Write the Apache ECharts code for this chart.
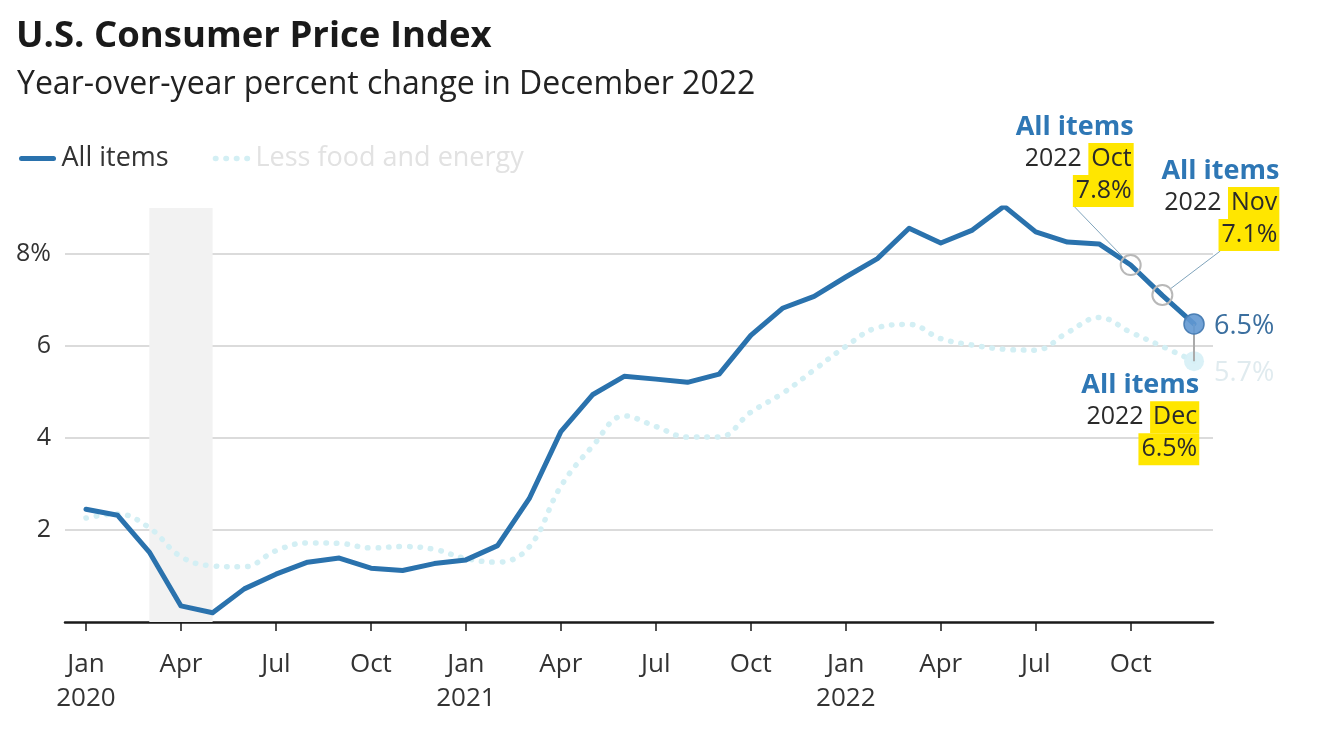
<!DOCTYPE html>
<html>
<head>
<meta charset="utf-8">
<script src="https://cdn.jsdelivr.net/npm/echarts@6/dist/echarts.min.js"></script>
<style>
html,body{margin:0;padding:0;background:#fff;}
#c{width:1341px;height:741px;}
</style>
</head>
<body>
<div id="c"></div>
<script>
// ---- Data ----
const months = ['Jan','Feb','Mar','Apr','May','Jun','Jul','Aug','Sep','Oct','Nov','Dec'];
const years = ['2020','2021','2022'];
// All items CPI, YoY % (Jan 2020 .. Dec 2022)
const allItems = [2.45, 2.32, 1.52, 0.35, 0.2, 0.72, 1.04, 1.3, 1.39, 1.17, 1.12, 1.27,
                  1.35, 1.66, 2.68, 4.14, 4.94, 5.34, 5.28, 5.21, 5.39, 6.23, 6.82, 7.08,
                  7.5, 7.9, 8.56, 8.24, 8.52, 9.04, 8.48, 8.26, 8.22, 7.76, 7.1, 6.48];
// Less food and energy, YoY %
const core = [2.26, 2.35, 2.05, 1.42, 1.22, 1.2, 1.55, 1.72, 1.71, 1.61, 1.64, 1.58,
              1.38, 1.3, 1.63, 2.95, 3.82, 4.48, 4.25, 4.02, 4.02, 4.56, 4.97, 5.48,
              5.99, 6.4, 6.47, 6.16, 6.02, 5.93, 5.91, 6.29, 6.62, 6.3, 5.99, 5.67];
const yTicks = [2, 4, 6, 8];
const xTickIdx = [0, 3, 6, 9, 12, 15, 18, 21, 24, 27, 30, 33];
const recession = [2, 4]; // Mar 2020 .. May 2020 (index)
const annotations = [
  {idx: 33, value: 7.76, month: 'Oct', label: '7.8%'},
  {idx: 34, value: 7.11, month: 'Nov', label: '7.1%'},
  {idx: 35, value: 6.48, month: 'Dec', label: '6.5%'}
];
const endLabels = {all: '6.5%', core: '5.7%'};

// ---- Build ----
const allData = allItems.map((v, i) => [i, v]);
const coreData = core.map((v, i) => [i, v]);
const last = allItems.length - 1;

const FONT = 'Open Sans';
const BLUE = '#2a72ad';
const CORE = '#d3eff4';
const YEL = '#ffe600';

function monthLabel(i) {
  const m = months[i % 12];
  if (i % 12 === 0) return m + '\n' + years[Math.floor(i / 12)];
  return m;
}

const rich = {
  t: {fontFamily: FONT, fontWeight: 'bold', fontSize: 27, color: '#2e77b5', lineHeight: 32, align: 'right'},
  d: {fontFamily: FONT, fontSize: 25, color: '#2a2a2a', lineHeight: 32, align: 'right'},
  h: {fontFamily: FONT, fontSize: 25, color: '#2a2a2a', lineHeight: 32, height: 32, backgroundColor: YEL, padding: [0, 2, 0, 3], align: 'right'}
};

const layouts = [
  {position: [14, -47], verticalAlign: 'bottom'},
  {position: [128, -33], verticalAlign: 'bottom'},
  {position: [16, 56], verticalAlign: 'top'}
];

const annData = annotations.map((a, k) => ({
  value: [a.idx, a.value],
  symbol: 'circle',
  symbolSize: 20,
  itemStyle: k < 2 ? {color: 'rgba(255,255,255,0)', borderColor: '#b8b8b8', borderWidth: 2, opacity: 1}
                   : {color: 'rgba(98,152,210,0.9)', borderColor: '#4a7fb5', borderWidth: 1.5, opacity: 1},
  label: {
    show: true,
    position: layouts[k].position,
    align: 'right',
    verticalAlign: layouts[k].verticalAlign,
    formatter: '{t|All items}\n{d|2022 }{h|' + a.month + '}\n{h|' + a.label + '}',
    rich: rich
  },
  labelLine: {show: k < 2, lineStyle: {color: '#7fa3bb', width: 1}}
}));

const option = {
  animation: false,
  title: [
    {text: 'U.S. Consumer Price Index', left: 11, top: 13,
     textStyle: {fontFamily: FONT, fontWeight: 'bold', fontSize: 36.5, color: '#1a1a1a'}},
    {text: 'Year-over-year percent change in December 2022', left: 12, top: 64,
     textStyle: {fontFamily: FONT, fontWeight: 'normal', fontSize: 32, color: '#222'}}
  ],
  legend: {
    left: 14, top: 140,
    itemWidth: 32, itemHeight: 14, itemGap: 44,
    itemStyle: {opacity: 0},
    textStyle: {fontFamily: FONT, fontSize: 27, color: '#333', padding: [0, 0, 0, 3]},
    data: [
      {name: 'All items', textStyle: {color: '#333'},
       lineStyle: {color: BLUE, width: 5, cap: 'round', type: 'solid'}},
      {name: 'Less food and energy', textStyle: {color: '#e2e2e2'},
       lineStyle: {color: CORE, width: 5.5, cap: 'round', type: [0.5, 10]}}
    ],
    selectedMode: false
  },
  grid: {left: 65, right: 128, top: 208, bottom: 119, containLabel: false},
  xAxis: {
    type: 'value',
    min: -0.663, max: 35.6,
    splitLine: {show: false},
    axisLine: {show: true, lineStyle: {color: '#1a1a1a', width: 2.5}},
    axisTick: {show: true, customValues: xTickIdx, length: 9, lineStyle: {color: '#1a1a1a', width: 1.5}},
    axisLabel: {
      customValues: xTickIdx,
      formatter: v => monthLabel(Math.round(v)),
      fontFamily: FONT, fontSize: 26, color: '#333', lineHeight: 34, margin: 26
    }
  },
  yAxis: {
    type: 'value',
    min: 0, max: 9,
    axisLine: {show: false},
    axisTick: {show: false},
    splitLine: {show: true, lineStyle: {color: '#cfcfcf', width: 1.5}, showMinLine: false, showMaxLine: false},
    axisLabel: {
      customValues: yTicks,
      formatter: v => (v === 8 ? v + '%' : String(v)),
      fontFamily: FONT, fontSize: 25, color: '#333', margin: 14
    }
  },
  series: [
    {
      name: 'Less food and energy',
      type: 'line',
      data: coreData,
      smooth: 0.4,
      symbol: 'none',
      z: 2,
      lineStyle: {color: CORE, width: 5.5, type: [0.5, 10], cap: 'round'},
      itemStyle: {color: CORE},
      markArea: {
        silent: true,
        itemStyle: {color: '#f2f2f2'},
        data: [[{xAxis: recession[0], yAxis: 0}, {xAxis: recession[1], yAxis: 9}]]
      }
    },
    {
      name: 'All items',
      type: 'line',
      data: allData,
      symbol: 'none',
      z: 3,
      lineStyle: {color: BLUE, width: 5, cap: 'round', join: 'round'},
      itemStyle: {color: BLUE}
    },
    {
      name: 'ends',
      type: 'scatter',
      z: 4,
      symbolSize: 20,
      data: [
        {value: [last, core[last]], itemStyle: {color: 'rgba(214,240,246,0.9)', opacity: 1},
         label: {show: true, position: 'right', distance: 10, offset: [0, 12], formatter: endLabels.core,
                 color: '#e0ebef', fontFamily: FONT, fontSize: 27}},
        {value: [last, allItems[last]], itemStyle: {color: 'rgba(0,0,0,0)', opacity: 1},
         label: {show: true, position: 'right', distance: 10, offset: [0, 2], formatter: endLabels.all,
                 color: '#3b6f9f', fontFamily: FONT, fontSize: 27}}
      ],
      markLine: {
        silent: true,
        symbol: 'none',
        lineStyle: {color: '#aaaaaa', width: 2, type: 'solid'},
        label: {show: false},
        data: [[{coord: [last, allItems[last]]}, {coord: [last, core[last]]}]]
      }
    },
    {
      name: 'annotations',
      type: 'scatter',
      z: 5,
      data: annData
    }
  ]
};

const chart = echarts.init(document.getElementById('c'));
chart.setOption(option);
</script>
</body>
</html>
